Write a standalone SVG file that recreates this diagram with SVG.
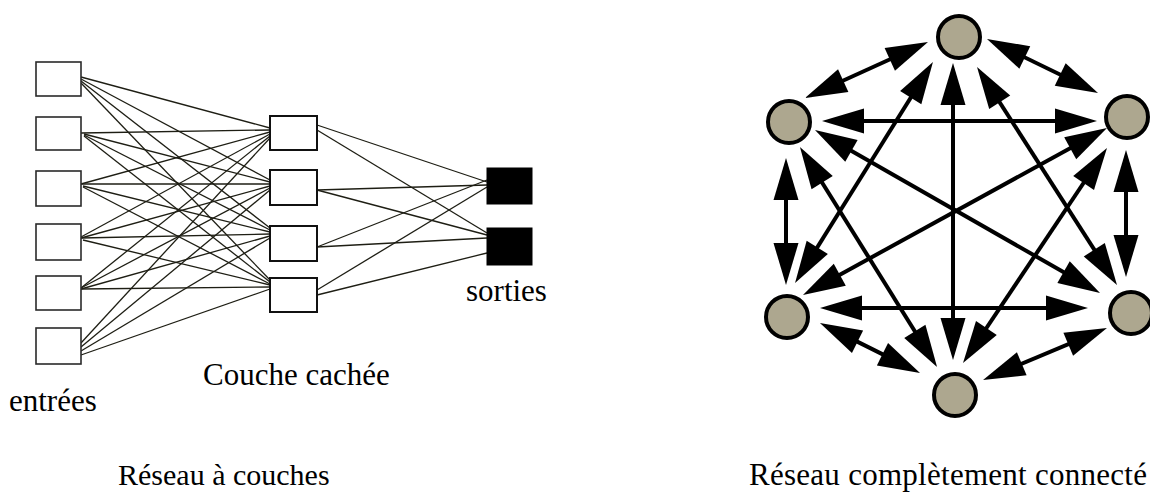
<svg xmlns="http://www.w3.org/2000/svg" width="1150" height="492" viewBox="0 0 1150 492">
<style>
.in{fill:#fff;stroke:#2a2a2a;stroke-width:1.6}
.hid{fill:#fff;stroke:#111;stroke-width:2}
.out{fill:#000;stroke:#000;stroke-width:1}
.w{stroke:#1e1e14;stroke-width:1.3;fill:none}
.node{fill:#ADA78F;stroke:#000;stroke-width:4}
.e{stroke:#000;stroke-width:4;fill:none;marker-start:url(#ah);marker-end:url(#ah)}
.t{font-family:"Liberation Serif","Times New Roman",serif;fill:#000}
</style>
<defs>
<marker id="ah" markerUnits="userSpaceOnUse" viewBox="-32 -14 46 28" refX="0" refY="0" markerWidth="46" markerHeight="28" orient="auto-start-reverse">
<path d="M12,0 L-30,-12.5 L-30,12.5 Z" fill="#000"/>
</marker>
</defs>

<!-- Layered network -->
<g id="layer-connectors">
<line class="w" x1="81" y1="77" x2="270" y2="128"/>
<line class="w" x1="81" y1="79" x2="270" y2="180"/>
<line class="w" x1="81" y1="81" x2="270" y2="228"/>
<line class="w" x1="81" y1="83" x2="270" y2="280"/>
<line class="w" x1="81" y1="133" x2="270" y2="130"/>
<line class="w" x1="84" y1="134" x2="270" y2="182"/>
<line class="w" x1="84" y1="135" x2="270" y2="230"/>
<line class="w" x1="84" y1="136" x2="270" y2="282"/>
<line class="w" x1="81" y1="184" x2="270" y2="132"/>
<line class="w" x1="81" y1="184" x2="270" y2="184"/>
<line class="w" x1="83" y1="186" x2="270" y2="232"/>
<line class="w" x1="83" y1="187" x2="270" y2="284"/>
<line class="w" x1="81" y1="237" x2="270" y2="134"/>
<line class="w" x1="81" y1="238" x2="270" y2="186"/>
<line class="w" x1="81" y1="238" x2="270" y2="234"/>
<line class="w" x1="83" y1="240" x2="270" y2="285"/>
<line class="w" x1="81" y1="288" x2="270" y2="136"/>
<line class="w" x1="81" y1="288" x2="270" y2="188"/>
<line class="w" x1="81" y1="289" x2="270" y2="236"/>
<line class="w" x1="81" y1="289" x2="270" y2="287"/>
<line class="w" x1="81" y1="343" x2="270" y2="138"/>
<line class="w" x1="81" y1="347" x2="270" y2="190"/>
<line class="w" x1="81" y1="351" x2="270" y2="238"/>
<line class="w" x1="81" y1="355" x2="270" y2="289"/>
<line class="w" x1="317" y1="125" x2="487" y2="182"/>
<line class="w" x1="317" y1="130" x2="487" y2="233"/>
<line class="w" x1="317" y1="190" x2="487" y2="185"/>
<line class="w" x1="317" y1="190" x2="487" y2="235"/>
<line class="w" x1="317" y1="247" x2="487" y2="180"/>
<line class="w" x1="317" y1="247" x2="487" y2="238"/>
<line class="w" x1="317" y1="290" x2="487" y2="187"/>
<line class="w" x1="317" y1="295" x2="487" y2="253"/>
</g>

<g id="in1"><rect class="in" x="36" y="62" width="45" height="34"/></g>
<g id="in2"><rect class="in" x="36" y="117" width="45" height="33"/></g>
<g id="in3"><rect class="in" x="36" y="171" width="45" height="35"/></g>
<g id="in4"><rect class="in" x="36" y="224" width="45" height="36"/></g>
<g id="in5"><rect class="in" x="36" y="276" width="45" height="34"/></g>
<g id="in6"><rect class="in" x="36" y="328" width="45" height="36"/></g>

<g id="hid1"><rect class="hid" x="270" y="116" width="47" height="34"/></g>
<g id="hid2"><rect class="hid" x="270" y="170" width="47" height="35"/></g>
<g id="hid3"><rect class="hid" x="270" y="226" width="47" height="35"/></g>
<g id="hid4"><rect class="hid" x="270" y="278" width="47" height="34"/></g>

<g id="out1"><rect class="out" x="487" y="168" width="45" height="36"/></g>
<g id="out2"><rect class="out" x="487" y="228" width="45" height="37"/></g>

<text class="t" x="466" y="301" font-size="31">sorties</text>
<text class="t" x="203" y="385" font-size="31">Couche cachée</text>
<text class="t" x="9" y="411" font-size="31">entrées</text>
<text class="t" x="118" y="485" font-size="30">Réseau à couches</text>

<!-- Fully connected network -->
<g id="mesh-connectors">
<line class="e" x1="834" y1="121" x2="1085" y2="121"/>
<line class="e" x1="832" y1="308" x2="1076" y2="308"/>
<line class="e" x1="953" y1="75" x2="953" y2="348"/>
<line class="e" x1="786" y1="170" x2="786" y2="273"/>
<line class="e" x1="1126" y1="162" x2="1126" y2="265"/>
<line class="e" x1="917.1" y1="47" x2="815.9" y2="93"/>
<line class="e" x1="997.8" y1="44.3" x2="1087.2" y2="87.7"/>
<line class="e" x1="926.6" y1="72.2" x2="801.4" y2="272.8"/>
<line class="e" x1="983.5" y1="77.1" x2="1110.5" y2="274.9"/>
<line class="e" x1="806.3" y1="157.2" x2="930.7" y2="356.8"/>
<line class="e" x1="825.4" y1="136" x2="1089.6" y2="287"/>
<line class="e" x1="1096.5" y1="133.8" x2="813.5" y2="289.2"/>
<line class="e" x1="1100.3" y1="158" x2="969.7" y2="353"/>
<line class="e" x1="830.7" y1="328.4" x2="909.3" y2="367.6"/>
<line class="e" x1="1095.9" y1="332.6" x2="994.1" y2="375.4"/>
</g>

<g id="n-top"><circle class="node" cx="959" cy="37" r="21"/></g>
<g id="n-upper-left"><circle class="node" cx="789" cy="122" r="21"/></g>
<g id="n-upper-right"><circle class="node" cx="1127" cy="117" r="21"/></g>
<g id="n-lower-left"><circle class="node" cx="787" cy="317" r="21"/></g>
<g id="n-lower-right"><circle class="node" cx="1131" cy="313" r="21"/></g>
<g id="n-bottom"><circle class="node" cx="955" cy="395" r="21"/></g>

<text class="t" x="749" y="485" font-size="31" textLength="398" lengthAdjust="spacing">Réseau complètement connecté</text>
</svg>
